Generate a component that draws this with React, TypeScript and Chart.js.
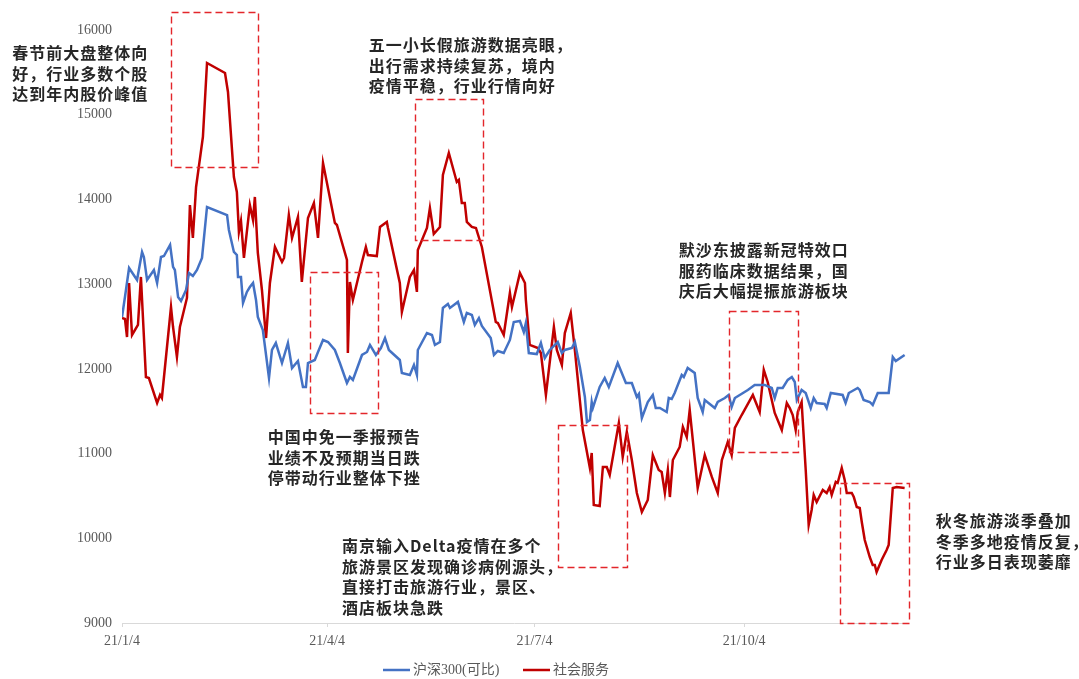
import React, { useEffect, useRef } from "react";
import { Chart, registerables } from "chart.js";

Chart.register(...registerables);

// x values are calendar-day offsets from 2021-01-04
const tickDays = [0, 90, 181, 273];
const tickLabels = ["21/1/4", "21/4/4", "21/7/4", "21/10/4"];

const seriesNames = ["沪深300(可比)", "社会服务"];

const hs300Points: number[][] = [
  [0, 12612], [1.3, 12848], [3.1, 13191], [6.6, 13049], [8.8, 13380], [9.6, 13321], [11.0, 13049],
  [14.0, 13167], [15.4, 13014], [17.1, 13321], [18.4, 13332], [21.1, 13462], [22.4, 13203], [23.2, 13167],
  [24.6, 12848], [25.9, 12801], [28.1, 12931], [29.4, 13132], [31.1, 13096], [32.9, 13167], [35.1, 13309],
  [37.3, 13911], [46.1, 13816], [46.9, 13639], [49.1, 13380], [50.4, 13344], [50.9, 13085], [52.2, 13085],
  [53.1, 12778], [54.8, 12908], [56.1, 12966], [57.5, 13014], [58.8, 12813], [59.6, 12612], [61.8, 12459],
  [64.5, 11892], [65.8, 12223], [67.5, 12305], [70.2, 12069], [72.8, 12305], [74.6, 12010], [77.2, 12093],
  [79.4, 11786], [80.7, 11786], [81.6, 12069], [84.6, 12105], [86.0, 12199], [88.2, 12341], [90.4, 12317],
  [93.4, 12223], [95.6, 12069], [98.7, 11833], [100.0, 11904], [101.3, 11869], [105.3, 12164], [107.5, 12199],
  [108.8, 12282], [111.4, 12164], [113.6, 12246], [115.4, 12364], [117.1, 12223], [121.9, 12105], [122.8, 11951],
  [126.3, 11928], [128.1, 12046], [129.4, 11928], [129.8, 12223], [133.8, 12423], [136.0, 12400], [137.3, 12282],
  [139.5, 12317], [140.8, 12719], [143.0, 12766], [143.9, 12719], [147.4, 12790], [150.0, 12553], [151.3, 12660],
  [153.5, 12636], [154.8, 12518], [156.6, 12600], [157.9, 12506], [161.8, 12364], [163.2, 12164], [164.9, 12211],
  [167.5, 12187], [170.2, 12341], [171.9, 12553], [174.6, 12565], [176.3, 12435], [177.2, 12541], [178.5, 12187],
  [182.0, 12175], [183.8, 12305], [185.5, 12128], [187.7, 12223], [191.2, 12317], [193.0, 12187], [194.3, 12223],
  [197.4, 12246], [198.7, 12317], [200.9, 12022], [203.1, 11668], [204.0, 11373], [205.3, 11396], [206.1, 11609],
  [206.6, 11538], [209.6, 11786], [211.8, 11892], [213.6, 11786], [217.5, 12069], [221.1, 11833], [223.7, 11833],
  [225.9, 11668], [226.8, 11703], [228.1, 11420], [230.7, 11609], [232.9, 11692], [234.2, 11538], [236.0, 11538],
  [239.0, 11491], [239.9, 11656], [241.2, 11644], [242.5, 11715], [245.6, 11928], [246.5, 11904], [248.2, 12010],
  [251.3, 11951], [252.6, 11656], [254.8, 11491], [255.7, 11633], [260.1, 11538], [261.4, 11609], [264.5, 11656],
  [266.2, 11692], [267.5, 11550], [268.9, 11656], [274.6, 11751], [277.6, 11810], [282.0, 11810], [285.1, 11774],
  [286.4, 11656], [287.7, 11774], [289.9, 11774], [292.1, 11869], [293.9, 11904], [295.2, 11845], [296.1, 11633],
  [298.2, 11751], [300.0, 11715], [302.2, 11538], [303.5, 11656], [304.8, 11597], [308.3, 11585], [309.2, 11538],
  [311.0, 11715], [316.2, 11692], [317.5, 11597], [318.9, 11715], [322.8, 11774], [323.7, 11751], [325.4, 11633],
  [328.1, 11609], [329.4, 11574], [331.6, 11715], [333.3, 11715], [336.4, 11715], [338.2, 12140], [339.5, 12093],
  [343.4, 12164],
];

const socialServicePoints: number[][] = [
  [0, 12600], [1.3, 12589], [2.2, 12376], [3.1, 13014], [4.4, 12400], [7.0, 12518], [8.3, 13085], [10.5, 11904],
  [11.8, 11892], [15.4, 11597], [16.7, 11692], [17.5, 11656], [21.5, 12730], [22.4, 12494], [24.1, 12140],
  [25.4, 12494], [28.5, 12837], [29.8, 13934], [31.1, 13545], [32.5, 14147], [35.5, 14737], [37.3, 15611],
  [45.2, 15493], [46.5, 15268], [49.1, 14265], [50.4, 14088], [51.3, 13616], [52.2, 13746], [53.5, 13309],
  [56.1, 13934], [57.5, 13757], [58.3, 14029], [59.6, 13368], [61.4, 12931], [63.2, 12364], [64.9, 13014],
  [67.1, 13439], [70.2, 13262], [71.1, 13309], [73.2, 13816], [74.6, 13545], [77.2, 13793], [78.9, 13026],
  [81.6, 13781], [84.2, 13958], [86.0, 13545], [88.2, 14430], [93.4, 13722], [94.3, 13698], [98.7, 13285],
  [99.1, 12187], [100.0, 13026], [101.3, 12813], [105.3, 13262], [107.0, 13439], [107.9, 13344], [111.8, 13332],
  [113.2, 13675], [116.2, 13734], [116.7, 13663], [121.9, 13014], [122.8, 12672], [126.3, 13085], [128.1, 13167],
  [129.4, 12908], [129.8, 13403], [133.8, 13663], [135.1, 13899], [136.8, 13592], [139.5, 13675], [140.8, 14289],
  [143.4, 14548], [146.9, 14206], [147.8, 14230], [149.1, 13958], [150.4, 13958], [151.3, 13734], [153.5, 13675],
  [155.3, 13663], [157.9, 13439], [164.0, 12553], [164.9, 12541], [167.5, 12400], [170.2, 12896], [171.1, 12730],
  [174.6, 13132], [176.8, 13014], [177.2, 12813], [178.9, 12282], [182.5, 12246], [183.8, 12187], [186.0, 11692],
  [189.5, 12494], [190.8, 12223], [193.0, 12046], [194.3, 12423], [196.9, 12660], [198.7, 12223], [202.2, 11278],
  [205.3, 10830], [206.1, 11007], [207.0, 10393], [209.6, 10381], [211.0, 10842], [212.7, 10842], [214.0, 10747],
  [218.0, 11361], [219.7, 10960], [221.5, 11255], [223.7, 10924], [225.9, 10535], [228.1, 10310], [230.7, 10452],
  [232.9, 10983], [235.5, 10806], [236.8, 10782], [238.2, 10535], [239.5, 10806], [240.4, 10487], [241.7, 10924],
  [244.7, 11078], [246.1, 11314], [247.8, 11196], [249.1, 11515], [252.6, 10594], [255.7, 10983], [258.8, 10724],
  [261.4, 10535], [263.2, 10924], [265.8, 11137], [267.5, 10983], [268.9, 11302], [271.9, 11455], [276.8, 11692],
  [279.8, 11491], [281.6, 11987], [283.3, 11845], [286.4, 11479], [289.5, 11278], [291.7, 11597], [293.0, 11538],
  [294.3, 11455], [295.6, 11278], [296.5, 11491], [298.2, 11609], [300.0, 10806], [301.3, 10157], [302.6, 10334],
  [303.5, 10511], [304.8, 10428], [307.5, 10570], [309.2, 10535], [310.5, 10605], [311.4, 10511], [313.2, 10665],
  [314.0, 10653], [315.8, 10830], [317.1, 10688], [318.0, 10535], [320.2, 10535], [321.1, 10487], [322.4, 10369],
  [323.7, 10357], [324.6, 10192], [325.9, 9980], [328.1, 9779], [329.4, 9685], [330.3, 9685], [331.1, 9602],
  [333.3, 9744], [335.5, 9862], [336.4, 9921], [338.2, 10594], [339.9, 10605], [343.4, 10594],
];

// highlighted periods: [startDay, endDay, topValue, bottomValue]
const highlightBoxes: number[][] = [
  [21.5, 59.6, 16213, 14383],
  [128.5, 158.3, 15186, 13521],
  [82.5, 112.3, 13144, 11479],
  [191.2, 221.5, 11337, 9661],
  [266.2, 296.5, 12683, 11019],
  [314.9, 345.2, 10653, 9000],
];

const noteTexts: string[][] = [
  ["春节前大盘整体向", "好，行业多数个股", "达到年内股价峰值"],
  ["五一小长假旅游数据亮眼，", "出行需求持续复苏，境内", "疫情平稳，行业行情向好"],
  ["默沙东披露新冠特效口", "服药临床数据结果，国", "庆后大幅提振旅游板块"],
  ["中国中免一季报预告", "业绩不及预期当日跌", "停带动行业整体下挫"],
  ["南京输入Delta疫情在多个", "旅游景区发现确诊病例源头，", "直接打击旅游行业，景区、", "酒店板块急跌"],
  ["秋冬旅游淡季叠加", "冬季多地疫情反复，", "行业多日表现萎靡"],
];
// anchor (left edge day, first-line value)
const noteDays = [-48.2, 108.3, 244.3, 64.0, 96.5, 357.0];
const noteValues = [15729, 15823, 13403, 11196, 9909, 10204];

const seriesColors = ["#4472C4", "#C00000"];

const notesPlugin = {
  id: "notesPlugin",
  afterDatasetsDraw(chart: any) {
    const { ctx, scales } = chart;
    const xs = scales.x;
    const ys = scales.y;
    ctx.save();
    // dashed boxes
    ctx.setLineDash([7, 4]);
    ctx.strokeStyle = "#E3262B";
    ctx.lineWidth = 1.4;
    highlightBoxes.forEach((b) => {
      const x1 = Math.round(xs.getPixelForValue(b[0])) + 0.5;
      const x2 = Math.round(xs.getPixelForValue(b[1])) + 0.5;
      const y1 = Math.round(ys.getPixelForValue(b[2])) + 0.5;
      const y2 = Math.round(ys.getPixelForValue(b[3])) + 0.5;
      ctx.strokeRect(x1, y1, x2 - x1, y2 - y1);
    });
    ctx.setLineDash([]);
    // notes
    ctx.fillStyle = "#262626";
    ctx.font = 'bold 16px "Noto Sans CJK SC"';
    (ctx as any).letterSpacing = "1px";
    ctx.textAlign = "left";
    ctx.textBaseline = "middle";
    noteTexts.forEach((lines, i) => {
      const px = xs.getPixelForValue(noteDays[i]);
      const py = ys.getPixelForValue(noteValues[i]);
      lines.forEach((t, j) => ctx.fillText(t, px, py + j * 20.5));
    });
    (ctx as any).letterSpacing = "0px";
    // legend
    const legendY = 670;
    const legendX = [383, 523];
    ctx.font = '14px "Liberation Serif", "Noto Sans CJK SC"';
    ctx.fillStyle = "#595959";
    chart.data.datasets.forEach((ds: any, i: number) => {
      ctx.strokeStyle = ds.borderColor;
      ctx.lineWidth = 2.5;
      ctx.beginPath();
      ctx.moveTo(legendX[i], legendY);
      ctx.lineTo(legendX[i] + 27, legendY);
      ctx.stroke();
      ctx.fillText(ds.label, legendX[i] + 30, legendY);
    });
    ctx.restore();
  },
};

export default function App() {
  const canvasRef = useRef<HTMLCanvasElement | null>(null);

  useEffect(() => {
    if (!canvasRef.current) return;
    const chart = new Chart(canvasRef.current, {
      type: "line",
      data: {
        datasets: [
          {
            label: seriesNames[0],
            data: hs300Points.map((p) => ({ x: p[0], y: p[1] })),
            borderColor: seriesColors[0],
            backgroundColor: seriesColors[0],
            borderWidth: 2.5,
            pointRadius: 0,
            tension: 0,
          },
          {
            label: seriesNames[1],
            data: socialServicePoints.map((p) => ({ x: p[0], y: p[1] })),
            borderColor: seriesColors[1],
            backgroundColor: seriesColors[1],
            borderWidth: 2.5,
            pointRadius: 0,
            tension: 0,
          },
        ],
      },
      options: {
        animation: false,
        responsive: true,
        maintainAspectRatio: false,
        layout: { padding: { top: 30, right: 173, bottom: 0, left: 0 } },
        plugins: {
          legend: { display: false },
          tooltip: { enabled: false },
        },
        scales: {
          x: {
            type: "linear",
            min: 0,
            max: 344,
            afterBuildTicks: (s: any) => {
              s.ticks = tickDays.map((v) => ({ value: v }));
            },
            afterFit: (s: any) => {
              s.height = 56;
            },
            ticks: {
              autoSkip: false,
              maxRotation: 0,
              padding: 6,
              color: "#595959",
              font: { family: "Liberation Serif", size: 14 },
              callback: (_v: any, i: number) => tickLabels[i],
            },
            grid: {
              display: true,
              drawOnChartArea: false,
              drawTicks: true,
              tickLength: 4,
              color: "#d9d9d9",
            },
            border: { display: true, color: "#d9d9d9", width: 1 },
          },
          y: {
            min: 9000,
            max: 16000,
            afterFit: (s: any) => {
              s.width = 122;
            },
            ticks: {
              stepSize: 1000,
              padding: 10,
              color: "#595959",
              font: { family: "Liberation Serif", size: 14 },
              callback: (v: any) => String(v),
            },
            grid: { display: false, drawTicks: false },
            border: { display: false },
          },
        },
      },
      plugins: [notesPlugin],
    });
    return () => chart.destroy();
  }, []);

  return (
    <div style={{ position: "absolute", left: 0, top: 0, width: 1079, height: 679, background: "#fff" }}>
      <canvas ref={canvasRef} />
    </div>
  );
}
